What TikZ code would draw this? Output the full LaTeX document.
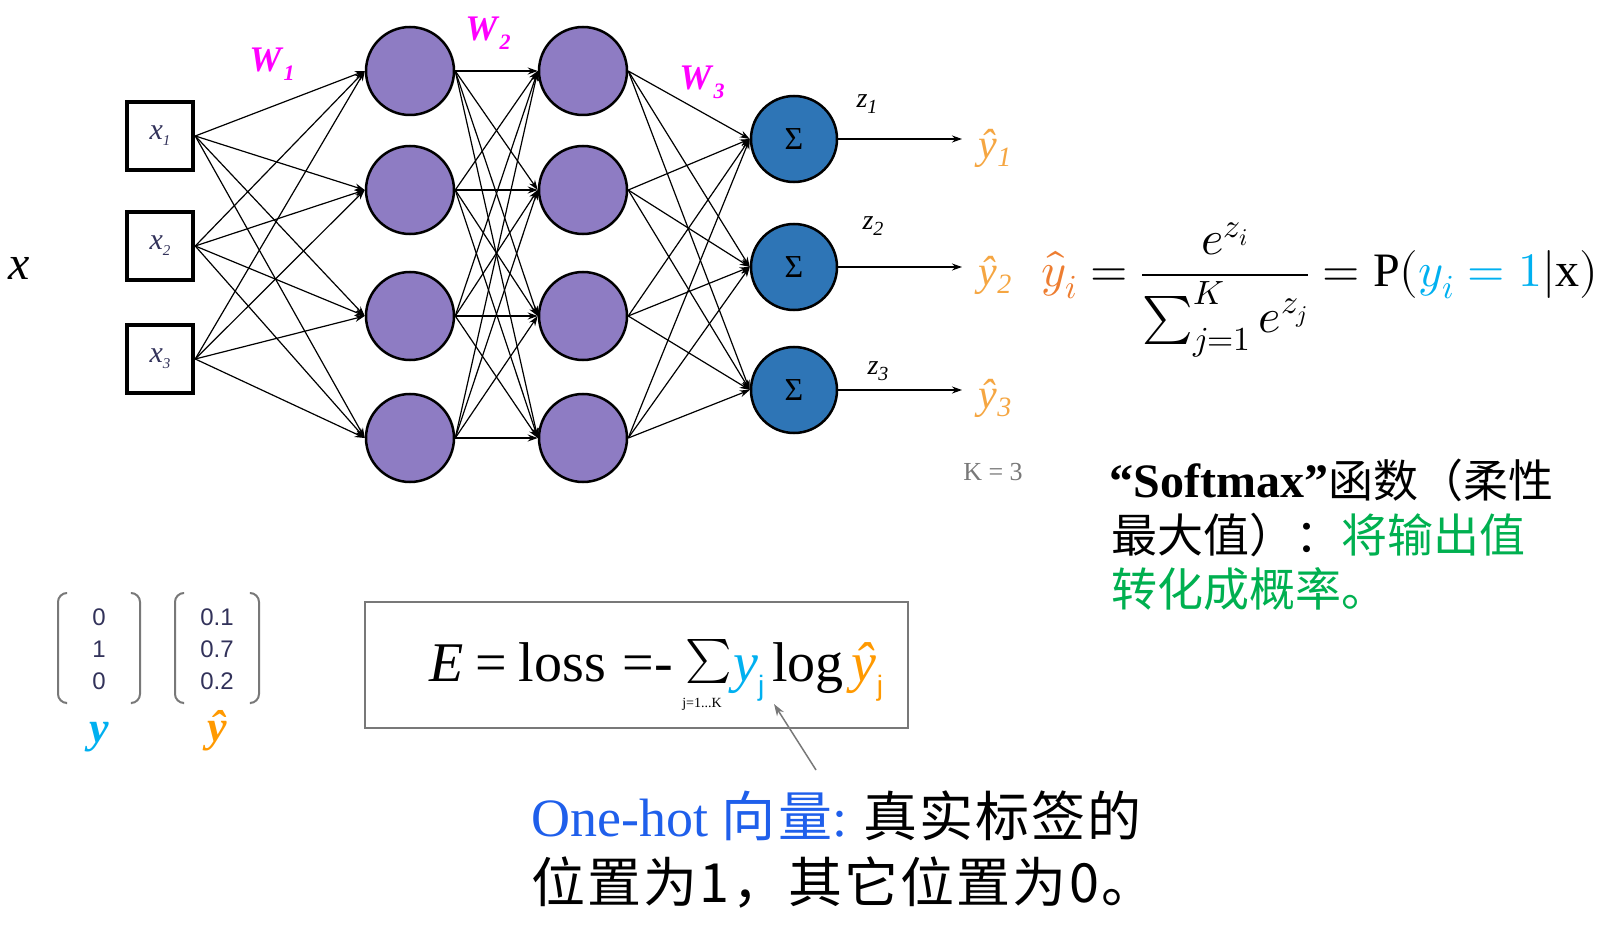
\documentclass[tikz,border=0pt]{standalone}
\usepackage{fontspec}
\usepackage{unicode-math}
\setmainfont{Liberation Serif}
\setsansfont{Liberation Sans}
\setmathfont{Latin Modern Math}
\newfontfamily\cjk{Noto Sans CJK SC}
\newfontfamily\cjksp[LetterSpace=4]{Noto Sans CJK SC}
\usetikzlibrary{arrows.meta}
\newcommand\fsz[1]{\fontsize{#1}{#1}\selectfont}
\definecolor{hidpurple}{RGB}{142,124,195}
\definecolor{outblue}{RGB}{46,117,182}
\definecolor{wmag}{RGB}{255,0,255}
\definecolor{yhatlight}{RGB}{245,166,66}
\definecolor{orangeA}{RGB}{237,125,49}
\definecolor{lblue}{RGB}{0,176,240}
\definecolor{yorange}{RGB}{255,153,0}
\definecolor{sgreen}{RGB}{0,176,80}
\definecolor{ohblue}{RGB}{31,95,235}
\definecolor{kgray}{RGB}{120,120,120}
\definecolor{inlab}{RGB}{50,50,90}
\tikzset{
  inbox/.style={draw, line width=4.5pt, minimum width=66pt, minimum height=68pt, inner sep=0pt},
  hid/.style={circle, draw, line width=2.5pt, fill=hidpurple, minimum size=88pt, inner sep=0pt},
  outn/.style={circle, draw, line width=2.5pt, fill=outblue, minimum size=86pt, inner sep=0pt},
  conn/.style={-{Stealth[length=10pt,width=7pt]}, line width=1.2pt},
  paren/.style={draw=kgray, line width=2pt, rounded corners=9pt},
}
\begin{document}
\begin{tikzpicture}[x=1pt,y=-1pt]
\useasboundingbox (0,0) rectangle (1599,936);
% inputs
\foreach \i/\y in {1/136,2/246,3/359}{
  \node[inbox] (in\i) at (160,\y) {\fsz{30}\color{inlab}\textit{x}\raisebox{-6pt}{\fsz{15}\textit{\i}}};
}
% hidden layers
\foreach \j/\y in {1/71,2/190,3/316,4/438}{
  \node[hid] (ha\j) at (410,\y) {};
  \node[hid] (hb\j) at (583,\y) {};
}
% outputs
\foreach \k/\y in {1/139,2/267,3/390}{
  \node[outn] (o\k) at (794,\y) {\fsz{32}Σ};
  \coordinate (e\k) at (962,\y);
}
% connections
\foreach \i in {1,2,3}{\foreach \j in {1,...,4}{\draw[conn] (in\i.east) -- (ha\j.west);}}
\foreach \i in {1,...,4}{\foreach \j in {1,...,4}{\draw[conn] (ha\i.east) -- (hb\j.west);}}
\foreach \i in {1,...,4}{\foreach \k in {1,2,3}{\draw[conn] (hb\i.east) -- (o\k.west);}}
\foreach \k in {1,2,3}{\draw[conn] (o\k.east) -- (e\k);}
% W labels
\node[wmag] (w1) at (272,64) {\fsz{36}\textbf{\textit{W}}\raisebox{-9pt}{\fsz{22}\textbf{\textit{1}}}};
\node[wmag] (w2) at (488,33) {\fsz{36}\textbf{\textit{W}}\raisebox{-9pt}{\fsz{22}\textbf{\textit{2}}}};
\node[wmag] (w3) at (702,82) {\fsz{36}\textbf{\textit{W}}\raisebox{-9pt}{\fsz{22}\textbf{\textit{3}}}};
% z labels
\node (z1) at (867,104) {\fsz{28}\textit{z}\raisebox{-6pt}{\fsz{20}\textit{1}}};
\node (z2) at (873,226) {\fsz{28}\textit{z}\raisebox{-6pt}{\fsz{20}\textit{2}}};
\node (z3) at (878,371) {\fsz{28}\textit{z}\raisebox{-6pt}{\fsz{20}\textit{3}}};
% yhat labels
\node[yhatlight] (yh1) at (995,148) {\fsz{42}\textit{ŷ}\raisebox{-8pt}{\fsz{28}\textit{1}}};
\node[yhatlight] (yh2) at (995,275) {\fsz{42}\textit{ŷ}\raisebox{-8pt}{\fsz{28}\textit{2}}};
\node[yhatlight] (yh3) at (995,398) {\fsz{42}\textit{ŷ}\raisebox{-8pt}{\fsz{28}\textit{3}}};
% x label
\node (xlab) at (19,268) {\fsz{48}\textit{x}};
% K=3
\node[kgray] (kk) at (993,472) {\fsz{26}K = 3};
% softmax formula
\node[anchor=west] (smf) at (1038,290) {\fsz{48}$\color{orangeA}\hat{y}_i \color{black}= \dfrac{e^{z_i}}{\sum_{j=1}^{K} e^{z_j}} = \mathrm{P}(\color{lblue}y_i = 1\color{black}|\mathrm{x})$};
% softmax text
\node[anchor=west] (st1) at (1106,480) {\fsz{48}\textbf{“Softmax”}{\fsz{45}\cjk 函数（柔性}};
\node[anchor=west] (st2) at (1108,535) {\fsz{46}\cjk 最大值）：\color{sgreen}将输出值};
\node[anchor=west] (st3) at (1108,589) {\fsz{46}\cjk\color{sgreen}转化成概率。};
% matrices
\draw[paren] (66,593) -- (58,593) -- (58,703) -- (66,703);
\draw[paren] (132,593) -- (140,593) -- (140,703) -- (132,703);
\draw[paren] (183,593) -- (175,593) -- (175,703) -- (183,703);
\draw[paren] (251,593) -- (259,593) -- (259,703) -- (251,703);
\node[font=\sffamily\fsz{24}, color=inlab, align=center] (my) at (99,649) {0\\[8pt]1\\[8pt]0};
\node[font=\sffamily\fsz{24}, color=inlab, align=center] (myh) at (217,649) {0.1\\[8pt]0.7\\[8pt]0.2};
\node[lblue] (ylab) at (99,737) {\fsz{44}\textbf{\textit{y}}};
\node[yorange] (yhlab) at (217,731) {\fsz{44}\textbf{\textit{ŷ}}};
% loss box
\node[draw=kgray, line width=2pt, minimum width=543pt, minimum height=126pt, inner sep=0pt] (lossbox) at (636,665) {};
\node[anchor=base west, inner sep=0pt] (loss1) at (429,681) {\fsz{56}\textit{E}\hspace{12pt}=\hspace{12pt}loss\hspace{16pt}=\hspace{1pt}-};
\node[inner sep=0pt] (lsum) at (709,661) {\fsz{44}$\sum$};
\node[inner sep=0pt] (llim) at (702,704) {\fsz{14}j=1...K};
\node[anchor=base west, inner sep=0pt] (loss2) at (733,681) {\fsz{56}\color{lblue}\textit{y}\raisebox{-14pt}{\fsz{28}\sffamily j}\color{black}\hspace{8pt}log\hspace{8pt}\color{yorange}\textit{ŷ}\raisebox{-14pt}{\fsz{28}\sffamily j}};
\coordinate (atip) at (774,704);
\coordinate (atail) at (816,770);
\draw[-{Stealth[length=12pt,width=8pt]}, line width=1.5pt, draw=kgray, fill=kgray] (atail) -- (atip);
% bottom text
\node[anchor=west] (bt1) at (528,816) {\fsz{54}\color{ohblue}One-hot {\cjksp 向量}:\hspace{16pt}\color{black}{\cjksp 真实标签的}};
\node[anchor=west] (bt2) at (528,883) {\fsz{54}\cjksp 位置为1，其它位置为0。};
\end{tikzpicture}
\end{document}
